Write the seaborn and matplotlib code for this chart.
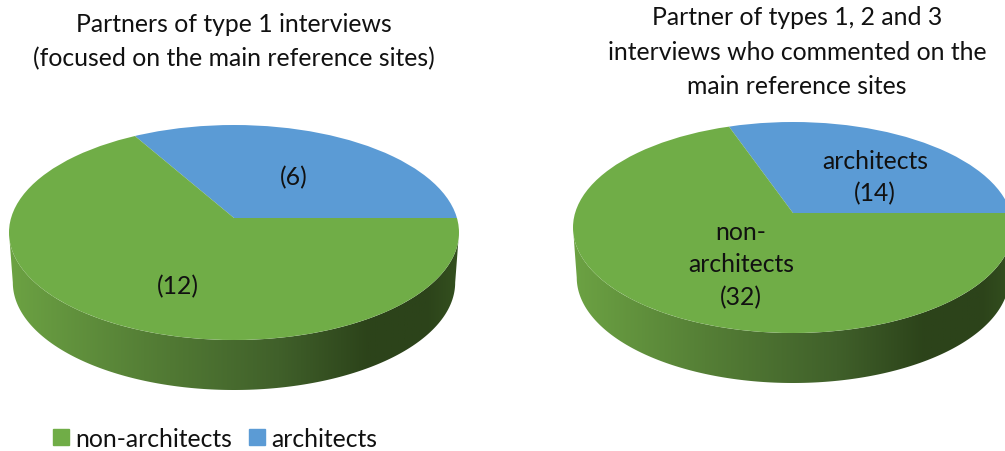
import numpy as np
import matplotlib
matplotlib.use("Agg")
import matplotlib.pyplot as plt
from matplotlib.colors import LinearSegmentedColormap
from matplotlib.patches import Ellipse, PathPatch, Patch
from matplotlib.path import Path
import seaborn as sns

categories = ["architects", "non-architects"]
left_values = [6, 12]
right_values = [14, 32]
left_title = "Partners of type 1 interviews\n(focused on the main reference sites)"
right_title = "Partner of types 1, 2 and 3\ninterviews who commented on the\nmain reference sites"
left_labels = ["(6)", "(12)"]
right_labels = ["architects\n(14)", "non-\narchitects\n(32)"]
colors = ["#5B9BD5", "#70AD47"]

sns.set_theme(style="white")
plt.rcParams["font.family"] = ["Lato", "DejaVu Sans"]

W, H = 1005, 452
FS = 17.8
fig = plt.figure(figsize=(W / 100, H / 100), dpi=100, facecolor="white")
side_cmap = LinearSegmentedColormap.from_list(
    "side",
    [(0.0, "#6CA243"), (0.30, "#557F36"), (0.60, "#40602A"), (0.80, "#2C431A"), (0.93, "#2C431A"), (1.0, "#34501F")],
)


def draw_pie(values, cx, cy, rx, ry, apex_y, depth, bottom_scale):
    """Pseudo-3D pie: top surface from ax.pie, extruded rim with a gradient."""
    margin = 1.06
    top_units = 1.1
    bottom_units = 1.1 + depth / ry
    left = cx - margin * rx
    width = 2 * margin * rx
    bottom_px = cy + bottom_units * ry
    height = (top_units + bottom_units) * ry
    ax = fig.add_axes([left / W, 1 - bottom_px / H, width / W, height / H])

    wedges, _ = ax.pie(values, colors=colors, startangle=0, counterclock=True,
                       center=(0, (cy - apex_y) / ry), radius=4,
                       wedgeprops=dict(linewidth=0))
    ax.set_aspect("auto")
    ax.set_xlim(-margin, margin)
    ax.set_ylim(-bottom_units, top_units)
    ax.axis("off")

    disc = Ellipse((0, 0), 2, 2, transform=ax.transData, fc="none", ec="none")
    ax.add_patch(disc)
    for w in wedges:
        w.set_clip_on(True)
        w.set_clip_path(disc)
        w.set_zorder(3)

    t = np.linspace(np.pi, 2 * np.pi, 200)
    d = depth / ry
    upper = np.column_stack([np.cos(t), np.sin(t)])
    lower = np.column_stack([bottom_scale * np.cos(t[::-1]), np.sin(t[::-1]) - d])
    rim = PathPatch(Path(np.vstack([upper, lower, upper[:1]]), closed=True),
                    fc="none", ec="none", transform=ax.transData)
    ax.add_patch(rim)
    grad = np.linspace(0, 1, 256).reshape(1, -1)
    im = ax.imshow(grad, cmap=side_cmap, extent=(-1, 1, -1 - d, 0.1), aspect="auto",
                   zorder=1, origin="lower")
    im.set_clip_path(rim)
    ax.set_xlim(-margin, margin)
    ax.set_ylim(-bottom_units, top_units)
    return ax


draw_pie(left_values, cx=234, cy=233.5, rx=225, ry=107.5, apex_y=219, depth=50, bottom_scale=0.983)
draw_pie(right_values, cx=793, cy=228.5, rx=220, ry=105.5, apex_y=214, depth=50, bottom_scale=0.983)


def px_text(x, y, s, spacing=1.48):
    fig.text(x / W, 1 - y / H, s, ha="center", va="center", fontsize=FS,
             color="#111111", linespacing=spacing, zorder=10, multialignment="center")


px_text(234, 41.5, left_title, 1.56)
px_text(797, 52, right_title, 1.58)
px_text(294, 178, left_labels[0])
px_text(178, 287, left_labels[1])
px_text(875, 178, right_labels[0])
px_text(741, 265, right_labels[1])

handles = [Patch(color=colors[1], label=categories[1]), Patch(color=colors[0], label=categories[0])]
fig.legend(handles=handles, loc="lower left", bbox_to_anchor=(36 / W, -16 / H), ncol=2, frameon=False,
           fontsize=FS, handlelength=0.62, handleheight=0.62, handletextpad=0.25, columnspacing=0.72,
           labelcolor="#111111", borderpad=0.2)

fig.savefig("out.png", dpi=100, facecolor="white")
